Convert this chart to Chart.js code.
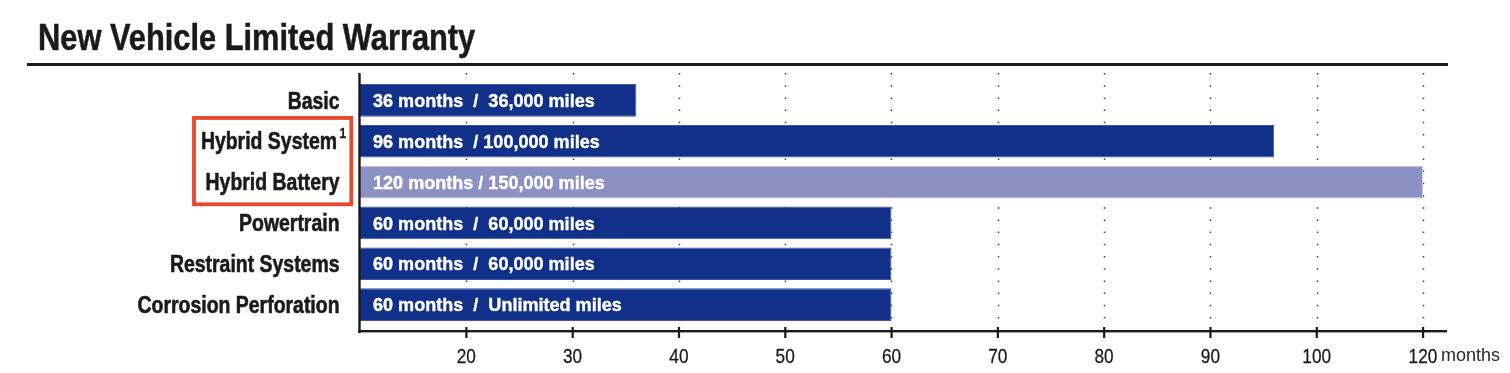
<!DOCTYPE html>
<html>
<head>
<meta charset="utf-8">
<script src="https://cdn.jsdelivr.net/npm/chart.js@4/dist/chart.umd.min.js"></script>
<style>
  html, body { margin: 0; padding: 0; background: #ffffff; }
  #wrap { position: relative; width: 1510px; height: 373px; overflow: hidden; }
  #title { position: absolute; left: 38px; top: 20px; font: bold 36px/36px "Liberation Sans", Arial, sans-serif; color: #1a1a1a; white-space: nowrap; transform: scaleX(0.856); transform-origin: 0 0; -webkit-text-stroke: 0.5px #1a1a1a; }
  #rule { position: absolute; left: 27px; top: 63px; width: 1421px; height: 3px; background: #1c1c1c; }
  #unit { position: absolute; left: 1441px; top: 346px; font: 18px/18px "Liberation Sans", Arial, sans-serif; color: #2a2a2a; white-space: nowrap; }
  canvas { position: absolute; left: 0; top: 0; }
</style>
</head>
<body>
<div id="wrap">
  <canvas id="c" width="1510" height="373"></canvas>
  <div id="title">New Vehicle Limited Warranty</div>
  <div id="rule"></div>
  <div id="unit">months</div>
</div>
<script>
// ---- data ----
const categories = ["Basic", "Hybrid System", "Hybrid Battery", "Powertrain", "Restraint Systems", "Corrosion Perforation"];
const footnotes = ["", "1", "", "", "", ""];
const warrantyMonths = [36, 96, 120, 60, 60, 60];
const barLabels = [
  "36 months  /  36,000 miles",
  "96 months  / 100,000 miles",
  "120 months / 150,000 miles",
  "60 months  /  60,000 miles",
  "60 months  /  60,000 miles",
  "60 months  /  Unlimited miles"
];
const xTickValues = [20, 30, 40, 50, 60, 70, 80, 90, 100, 120];
const xTickLabels = ["20", "30", "40", "50", "60", "70", "80", "90", "100", "120"];
const highlighted = [false, false, true, false, false, false];

// ---- axis with a break after 100 (120 sits where 110 would be) ----
class BrokenLinear extends Chart.LinearScale {
  getPixelForValue(value) {
    const v = value > 100 ? 100 + (value - 100) / 2 : value;
    return super.getPixelForValue(v);
  }
}
BrokenLinear.id = 'brokenLinear';
BrokenLinear.defaults = Chart.LinearScale.defaults;
Chart.register(BrokenLinear);

const DARK = '#11308a';
const LIGHT = '#8c90c3';
const FONT = '"Liberation Sans", Arial, sans-serif';

function drawText(ctx, text, x, y, font, sx, align, color, stroke) {
  ctx.save();
  ctx.font = font;
  ctx.fillStyle = color;
  ctx.strokeStyle = color;
  ctx.textAlign = 'left';
  ctx.textBaseline = 'alphabetic';
  const w = ctx.measureText(text).width * sx;
  const x0 = align === 'right' ? x - w : (align === 'center' ? x - w / 2 : x);
  ctx.translate(x0, y);
  ctx.scale(sx, 1);
  ctx.fillText(text, 0, 0);
  if (stroke) { ctx.lineWidth = stroke; ctx.lineJoin = 'round'; ctx.strokeText(text, 0, 0); }
  ctx.restore();
  return w;
}

const framePlugin = {
  id: 'frame',
  beforeDatasetsDraw(chart) {
    const ctx = chart.ctx, xs = chart.scales.x;
    ctx.save();
    ctx.strokeStyle = 'rgba(40,40,40,0.9)';
    ctx.lineWidth = 1.5;
    ctx.setLineDash([1.5, 10.7]);
    xs.ticks.forEach((t, i) => {
      const px = Math.round(xs.getPixelForTick(i)) + 0.5;
      ctx.beginPath();
      ctx.moveTo(px, 73);
      ctx.lineTo(px, 329);
      ctx.stroke();
    });
    ctx.restore();
  },
  afterDatasetsDraw(chart) {
    const ctx = chart.ctx, xs = chart.scales.x, ys = chart.scales.y;
    const meta = chart.getDatasetMeta(0);
    const left = chart.chartArea.left;
    // bar labels
    meta.data.forEach((bar, i) => {
      drawText(ctx, barLabels[i], left + 13, bar.y + 6.6, 'bold 19px ' + FONT, 0.95, 'left', '#ffffff', 0.4);
    });
    // category labels
    categories.forEach((c, i) => {
      const y = ys.getPixelForTick(i);
      if (footnotes[i]) {
        drawText(ctx, c, left - 23, y + 8.2, 'bold 23px ' + FONT, 0.845, 'right', '#1a1a1a', 0.6);
        drawText(ctx, footnotes[i], left - 20.5, y - 3, 'bold 15px ' + FONT, 0.8, 'left', '#1a1a1a', 0.3);
      } else {
        drawText(ctx, c, left - 20.5, y + 8.2, 'bold 23px ' + FONT, 0.845, 'right', '#1a1a1a', 0.6);
      }
    });
    // x tick labels
    xs.ticks.forEach((t, i) => {
      drawText(ctx, xTickLabels[i], xs.getPixelForTick(i), 363, '21px ' + FONT, 0.82, 'center', '#1a1a1a', 0.3);
    });
    ctx.save();
    // axes
    ctx.fillStyle = '#1a1a1a';
    ctx.fillRect(left - 1.7, 73, 2.4, 260);
    ctx.fillRect(left - 1.7, 330, chart.chartArea.right - left + 1.7, 2.4);
    xs.ticks.forEach((t, i) => {
      const px = xs.getPixelForTick(i);
      ctx.fillRect(px - 1, 327, 2.2, 11);
    });
    // highlight box around hybrid rows
    const y1 = ys.getPixelForTick(1), y2 = ys.getPixelForTick(2);
    ctx.strokeStyle = '#e9472c';
    ctx.lineWidth = 3.8;
    ctx.strokeRect(194, y1 - 23.3, 157.3, (y2 - y1) + 45.5);
    ctx.restore();
  }
};

new Chart(document.getElementById('c'), {
  type: 'bar',
  data: {
    labels: categories,
    datasets: [{
      data: warrantyMonths,
      backgroundColor: highlighted.map(h => h ? LIGHT : DARK),
      borderColor: highlighted.map(h => h ? '#c3c6e2' : '#3d56a0'),
      borderWidth: 1,
      borderSkipped: 'start',
      barPercentage: 0.8,
      categoryPercentage: 1.0
    }]
  },
  options: {
    indexAxis: 'y',
    responsive: false,
    animation: false,
    events: [],
    layout: { padding: { top: 80, left: 0, right: 63, bottom: 0 } },
    plugins: { legend: { display: false }, tooltip: { enabled: false }, title: { display: false } },
    scales: {
      x: {
        type: 'brokenLinear',
        position: 'bottom',
        min: 10,
        max: 112.26,
        afterBuildTicks: (scale) => { scale.ticks = xTickValues.map(v => ({ value: v })); },
        afterFit: (scale) => { scale.height = 48; },
        grid: { display: false, drawTicks: false },
        border: { display: false },
        ticks: { display: false, autoSkip: false, maxRotation: 0 }
      },
      y: {
        type: 'category',
        position: 'left',
        offset: true,
        afterFit: (scale) => { scale.width = 360; },
        grid: { display: false, drawTicks: false },
        border: { display: false },
        ticks: { display: false }
      }
    }
  },
  plugins: [framePlugin]
});
</script>
</body>
</html>
